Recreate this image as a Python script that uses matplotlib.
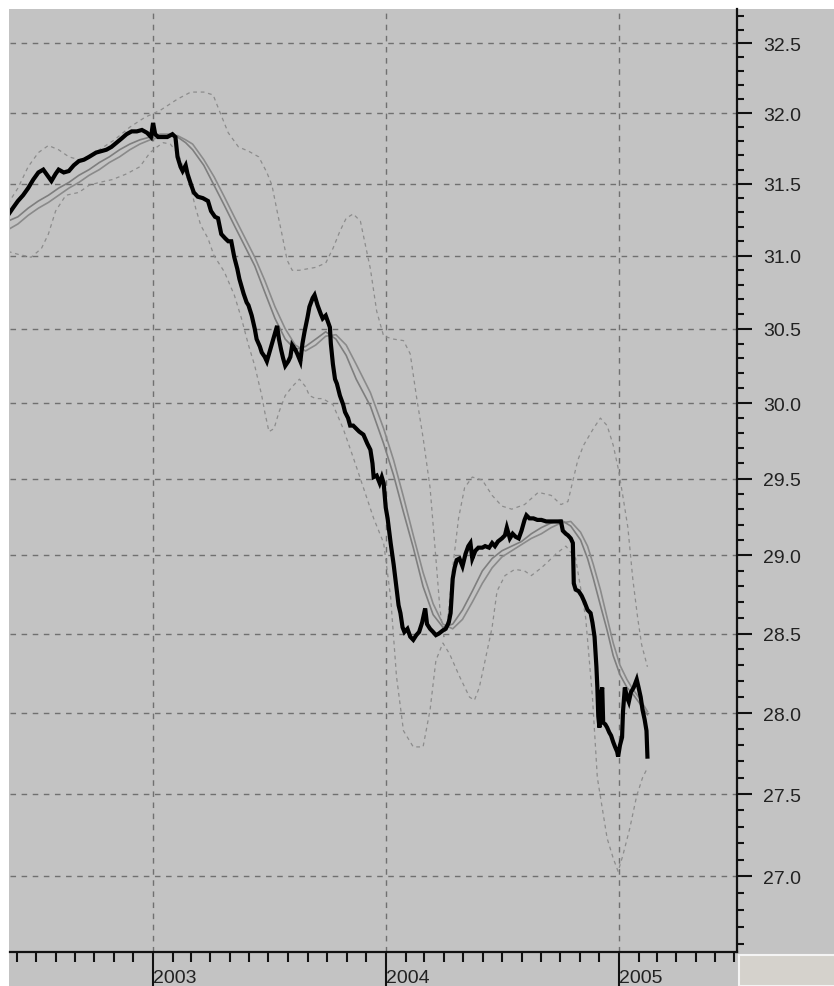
import numpy as np
import pandas as pd
import matplotlib
matplotlib.use("Agg")
import matplotlib.pyplot as plt
import matplotlib.dates as mdates
from matplotlib.ticker import MultipleLocator, NullFormatter, FormatStrFormatter
from matplotlib.patches import Rectangle

# --- data (x in decimal years, values in price units) ---
price_t = [2002.376, 2002.397, 2002.419, 2002.441, 2002.463, 2002.485, 2002.507, 2002.528, 2002.550, 2002.563,
           2002.581, 2002.594, 2002.616, 2002.638, 2002.659, 2002.681, 2002.703, 2002.725, 2002.755, 2002.777,
           2002.799, 2002.821, 2002.843, 2002.865, 2002.886, 2002.908, 2002.930, 2002.952, 2002.974, 2002.991,
           2003.000, 2003.009, 2003.022, 2003.039, 2003.061, 2003.083, 2003.096, 2003.105, 2003.118, 2003.127,
           2003.140, 2003.148, 2003.162, 2003.175, 2003.192, 2003.214, 2003.236, 2003.249, 2003.266, 2003.279,
           2003.293, 2003.310, 2003.323, 2003.336, 2003.349, 2003.362, 2003.371, 2003.389, 2003.402, 2003.410,
           2003.424, 2003.437, 2003.445, 2003.459, 2003.467, 2003.480, 2003.489, 2003.502, 2003.511, 2003.524,
           2003.533, 2003.541, 2003.550, 2003.559, 2003.568, 2003.581, 2003.590, 2003.598, 2003.611, 2003.620,
           2003.633, 2003.642, 2003.651, 2003.664, 2003.672, 2003.686, 2003.694, 2003.707, 2003.721, 2003.729,
           2003.742, 2003.751, 2003.760, 2003.764, 2003.773, 2003.782, 2003.790, 2003.803, 2003.817, 2003.825,
           2003.838, 2003.847, 2003.860, 2003.873, 2003.886, 2003.904, 2003.921, 2003.934, 2003.943, 2003.948,
           2003.961, 2003.974, 2003.983, 2003.991, 2004.000, 2004.008, 2004.021, 2004.034, 2004.046, 2004.055,
           2004.063, 2004.072, 2004.080, 2004.093, 2004.105, 2004.118, 2004.131, 2004.143, 2004.156, 2004.169,
           2004.177, 2004.190, 2004.203, 2004.215, 2004.228, 2004.245, 2004.257, 2004.270, 2004.278, 2004.287,
           2004.295, 2004.304, 2004.316, 2004.329, 2004.342, 2004.354, 2004.363, 2004.371, 2004.384, 2004.397,
           2004.414, 2004.426, 2004.443, 2004.456, 2004.468, 2004.481, 2004.498, 2004.511, 2004.519, 2004.532,
           2004.544, 2004.557, 2004.570, 2004.582, 2004.595, 2004.603, 2004.616, 2004.633, 2004.650, 2004.667,
           2004.688, 2004.709, 2004.730, 2004.751, 2004.759, 2004.772, 2004.781, 2004.793, 2004.802, 2004.806,
           2004.814, 2004.827, 2004.840, 2004.852, 2004.865, 2004.878, 2004.886, 2004.895, 2004.903, 2004.907,
           2004.911, 2004.916, 2004.920, 2004.928, 2004.932, 2004.941, 2004.949, 2004.958, 2004.966, 2004.975,
           2004.983, 2004.992, 2004.996, 2005.004, 2005.013, 2005.017, 2005.025, 2005.034, 2005.042, 2005.051,
           2005.063, 2005.076, 2005.084, 2005.093, 2005.101, 2005.110, 2005.118, 2005.122]
price = [31.28, 31.33, 31.38, 31.42, 31.47, 31.53, 31.58, 31.60, 31.55, 31.52,
         31.57, 31.60, 31.58, 31.59, 31.63, 31.66, 31.67, 31.69, 31.72, 31.73,
         31.74, 31.76, 31.79, 31.82, 31.85, 31.87, 31.87, 31.88, 31.86, 31.83,
         31.93, 31.85, 31.83, 31.83, 31.83, 31.85, 31.83, 31.69, 31.62, 31.59,
         31.63, 31.57, 31.50, 31.44, 31.41, 31.40, 31.38, 31.31, 31.27, 31.26,
         31.15, 31.12, 31.10, 31.10, 30.99, 30.91, 30.84, 30.74, 30.68, 30.66,
         30.59, 30.50, 30.43, 30.38, 30.34, 30.31, 30.28, 30.35, 30.40, 30.47,
         30.52, 30.43, 30.36, 30.30, 30.25, 30.28, 30.31, 30.39, 30.36, 30.33,
         30.28, 30.40, 30.48, 30.58, 30.65, 30.71, 30.73, 30.66, 30.60, 30.57,
         30.59, 30.55, 30.51, 30.40, 30.26, 30.16, 30.13, 30.05, 29.99, 29.94,
         29.90, 29.85, 29.85, 29.83, 29.81, 29.79, 29.73, 29.69, 29.60, 29.51,
         29.52, 29.47, 29.51, 29.47, 29.31, 29.24, 29.08, 28.94, 28.79, 28.68,
         28.63, 28.54, 28.51, 28.53, 28.48, 28.46, 28.49, 28.51, 28.57, 28.66,
         28.56, 28.53, 28.51, 28.49, 28.50, 28.52, 28.53, 28.57, 28.63, 28.85,
         28.92, 28.97, 28.98, 28.93, 29.01, 29.06, 29.08, 28.98, 29.03, 29.05,
         29.05, 29.06, 29.05, 29.08, 29.06, 29.09, 29.11, 29.13, 29.18, 29.11,
         29.14, 29.12, 29.11, 29.16, 29.23, 29.26, 29.24, 29.24, 29.23, 29.23,
         29.22, 29.22, 29.22, 29.22, 29.16, 29.14, 29.13, 29.11, 29.08, 28.82,
         28.78, 28.77, 28.74, 28.70, 28.65, 28.63, 28.57, 28.48, 28.29, 28.16,
         27.98, 27.91, 28.10, 28.16, 27.94, 27.93, 27.91, 27.88, 27.86, 27.82,
         27.79, 27.76, 27.73, 27.80, 27.85, 28.01, 28.16, 28.10, 28.07, 28.13,
         28.16, 28.21, 28.16, 28.10, 28.02, 27.96, 27.89, 27.73]

ma_t = [2002.376, 2002.419, 2002.463, 2002.507, 2002.550, 2002.594, 2002.638, 2002.681, 2002.725, 2002.769,
        2002.812, 2002.856, 2002.900, 2002.943, 2002.987, 2003.031, 2003.074, 2003.105, 2003.140, 2003.170,
        2003.218, 2003.262, 2003.306, 2003.349, 2003.393, 2003.437, 2003.480, 2003.524, 2003.568, 2003.611,
        2003.655, 2003.699, 2003.742, 2003.786, 2003.830, 2003.873, 2003.934, 2003.991, 2004.034, 2004.076,
        2004.118, 2004.160, 2004.203, 2004.245, 2004.287, 2004.329, 2004.371, 2004.414, 2004.456, 2004.498,
        2004.540, 2004.582, 2004.624, 2004.667, 2004.709, 2004.751, 2004.793, 2004.835, 2004.865, 2004.890,
        2004.920, 2004.949, 2004.975, 2005.004, 2005.034, 2005.059, 2005.089, 2005.122]
ma_fast = [31.24, 31.27, 31.33, 31.38, 31.42, 31.47, 31.51, 31.56, 31.60, 31.65,
           31.69, 31.74, 31.78, 31.81, 31.83, 31.85, 31.85, 31.83, 31.79, 31.74,
           31.63, 31.49, 31.35, 31.21, 31.07, 30.93, 30.75, 30.57, 30.43, 30.36,
           30.38, 30.43, 30.48, 30.43, 30.32, 30.16, 29.98, 29.73, 29.52, 29.28,
           29.05, 28.80, 28.62, 28.54, 28.56, 28.65, 28.77, 28.90, 28.98, 29.03,
           29.06, 29.09, 29.14, 29.18, 29.21, 29.23, 29.19, 29.10, 28.98, 28.85,
           28.68, 28.52, 28.36, 28.24, 28.16, 28.12, 28.06, 27.99]
ma_slow = [31.18, 31.22, 31.28, 31.33, 31.37, 31.42, 31.47, 31.51, 31.56, 31.60,
           31.65, 31.69, 31.74, 31.78, 31.81, 31.83, 31.84, 31.84, 31.81, 31.78,
           31.67, 31.55, 31.41, 31.27, 31.13, 30.99, 30.83, 30.65, 30.50, 30.39,
           30.35, 30.39, 30.45, 30.46, 30.39, 30.26, 30.07, 29.83, 29.62, 29.38,
           29.13, 28.89, 28.69, 28.56, 28.53, 28.59, 28.70, 28.82, 28.92, 28.99,
           29.03, 29.07, 29.11, 29.14, 29.18, 29.21, 29.22, 29.15, 29.06, 28.94,
           28.78, 28.60, 28.44, 28.30, 28.21, 28.15, 28.09, 28.01]

upper_t = [2002.376, 2002.419, 2002.463, 2002.507, 2002.550, 2002.594, 2002.638, 2002.681, 2002.725, 2002.769,
           2002.834, 2002.900, 2002.965, 2003.031, 2003.105, 2003.162, 2003.218, 2003.258, 2003.284, 2003.323,
           2003.367, 2003.410, 2003.454, 2003.489, 2003.511, 2003.533, 2003.555, 2003.576, 2003.598, 2003.629,
           2003.664, 2003.699, 2003.742, 2003.773, 2003.803, 2003.830, 2003.860, 2003.891, 2003.913, 2003.934,
           2003.961, 2003.991, 2004.034, 2004.076, 2004.105, 2004.131, 2004.160, 2004.190, 2004.215, 2004.232,
           2004.249, 2004.266, 2004.287, 2004.312, 2004.338, 2004.371, 2004.414, 2004.456, 2004.498, 2004.540,
           2004.595, 2004.654, 2004.709, 2004.751, 2004.781, 2004.823, 2004.848, 2004.890, 2004.920, 2004.949,
           2004.975, 2004.996, 2005.017, 2005.038, 2005.059, 2005.080, 2005.097, 2005.122]
upper = [31.36, 31.47, 31.62, 31.72, 31.77, 31.74, 31.69, 31.67, 31.69, 31.74,
         31.81, 31.90, 31.97, 32.02, 32.10, 32.15, 32.15, 32.13, 32.02, 31.86,
         31.76, 31.73, 31.69, 31.58, 31.49, 31.31, 31.14, 30.97, 30.90, 30.90,
         30.91, 30.92, 30.95, 31.05, 31.17, 31.26, 31.29, 31.24, 31.07, 30.91,
         30.62, 30.45, 30.43, 30.42, 30.33, 30.05, 29.77, 29.44, 28.98, 28.66,
         28.48, 28.60, 28.92, 29.24, 29.44, 29.51, 29.49, 29.39, 29.32, 29.30,
         29.33, 29.41, 29.39, 29.33, 29.35, 29.62, 29.72, 29.83, 29.90, 29.85,
         29.72, 29.57, 29.38, 29.18, 28.85, 28.60, 28.43, 28.29]

lower_t = [2002.376, 2002.419, 2002.476, 2002.520, 2002.550, 2002.581, 2002.625, 2002.681, 2002.725, 2002.769,
           2002.825, 2002.886, 2002.943, 2002.987, 2003.017, 2003.044, 2003.074, 2003.109, 2003.140, 2003.162,
           2003.183, 2003.205, 2003.236, 2003.262, 2003.306, 2003.349, 2003.380, 2003.410, 2003.437, 2003.467,
           2003.480, 2003.498, 2003.520, 2003.541, 2003.568, 2003.598, 2003.629, 2003.655, 2003.672, 2003.699,
           2003.729, 2003.773, 2003.817, 2003.860, 2003.904, 2003.948, 2003.991, 2004.021, 2004.046, 2004.076,
           2004.118, 2004.160, 2004.190, 2004.215, 2004.245, 2004.274, 2004.316, 2004.359, 2004.380, 2004.401,
           2004.426, 2004.456, 2004.477, 2004.511, 2004.553, 2004.595, 2004.624, 2004.667, 2004.696, 2004.730,
           2004.772, 2004.814, 2004.857, 2004.886, 2004.907, 2004.949, 2004.975, 2004.996, 2005.017, 2005.046,
           2005.076, 2005.101, 2005.122]
lower = [31.03, 31.01, 30.99, 31.05, 31.15, 31.31, 31.42, 31.44, 31.49, 31.51,
         31.53, 31.57, 31.62, 31.72, 31.76, 31.79, 31.78, 31.71, 31.57, 31.47,
         31.33, 31.21, 31.12, 31.00, 30.89, 30.73, 30.57, 30.39, 30.25, 30.05,
         29.94, 29.81, 29.83, 29.94, 30.05, 30.11, 30.16, 30.11, 30.05, 30.03,
         30.03, 29.99, 29.83, 29.64, 29.44, 29.24, 29.08, 28.73, 28.23, 27.89,
         27.79, 27.79, 28.02, 28.33, 28.44, 28.37, 28.23, 28.10, 28.08, 28.16,
         28.33, 28.54, 28.77, 28.87, 28.91, 28.90, 28.87, 28.92, 28.96, 29.01,
         29.06, 28.98, 28.60, 28.10, 27.60, 27.23, 27.11, 27.03, 27.13, 27.29,
         27.49, 27.60, 27.66]

x_range = [2002.385, 2005.507]
y_range = [26.55, 32.75]


def to_date(t):
    y = int(np.floor(t))
    start = pd.Timestamp(y, 1, 1)
    n = (pd.Timestamp(y + 1, 1, 1) - start).days
    return start + pd.Timedelta(days=(t - y) * n)


def dates(ts):
    return [to_date(t) for t in ts]


bg = '#c3c3c3'
W, H = 834, 987
fig = plt.figure(figsize=(W / 100, H / 100), dpi=100, facecolor='white')
fig.patches.append(Rectangle((9 / W, 0), 1, 1 - 10 / H, transform=fig.transFigure,
                             facecolor=bg, edgecolor='none', zorder=-2))
fig.patches.append(Rectangle((739 / W, 0), 1, (H - 956) / H, transform=fig.transFigure,
                             facecolor='#d5d2cc', edgecolor='#f4f4f4', lw=1.5, zorder=-1))

ax = fig.add_axes([10 / W, 1 - 953 / H, 727 / W, 943 / H])
ax.set_facecolor(bg)

ax.plot(dates(upper_t), upper, color='#8c8c8c', lw=0.9, linestyle=(0, (3, 3)))
ax.plot(dates(lower_t), lower, color='#8c8c8c', lw=0.9, linestyle=(0, (3, 3)))
ax.plot(dates(ma_t), ma_slow, color='#8a8a8a', lw=1.2)
ax.plot(dates(ma_t), ma_fast, color='#7e7e7e', lw=1.2)
ax.plot(dates(price_t), price, color='black', lw=3.0, solid_joinstyle='miter')

ax.set_yscale('log')
ax.set_ylim(*y_range)
ax.set_xlim(to_date(x_range[0]), to_date(x_range[1]))

ax.yaxis.set_major_locator(MultipleLocator(0.5))
ax.yaxis.set_minor_locator(MultipleLocator(0.1))
ax.yaxis.set_major_formatter(FormatStrFormatter('%.1f'))
ax.yaxis.set_minor_formatter(NullFormatter())
ax.yaxis.tick_right()

ax.xaxis.set_major_locator(mdates.YearLocator())
ax.xaxis.set_minor_locator(mdates.MonthLocator())
ax.xaxis.set_major_formatter(mdates.DateFormatter('%Y'))

ax.grid(True, which='major', color='#707070', linestyle=(0, (4, 4)), lw=1)
ax.set_axisbelow(True)

for s in ['left', 'top']:
    ax.spines[s].set_visible(False)
for s in ['right', 'bottom']:
    ax.spines[s].set_linewidth(1.6)
    ax.spines[s].set_color('#111111')

ax.tick_params(axis='y', which='major', length=11, width=1.5, pad=8, labelsize=14,
               colors='#111111', labelcolor='#222222')
ax.tick_params(axis='y', which='minor', length=5, width=1.5, colors='#111111')
ax.tick_params(axis='x', which='major', length=25, width=1.5, pad=-13, labelsize=14,
               colors='#111111', labelcolor='#222222')
ax.tick_params(axis='x', which='minor', length=7, width=1.5, colors='#111111')
for lbl in ax.get_xticklabels():
    lbl.set_horizontalalignment('left')
    lbl.set_family('Liberation Sans')
for lbl in ax.get_yticklabels():
    lbl.set_family('Liberation Sans')

fig.savefig('out.png', dpi=100, facecolor=fig.get_facecolor())
